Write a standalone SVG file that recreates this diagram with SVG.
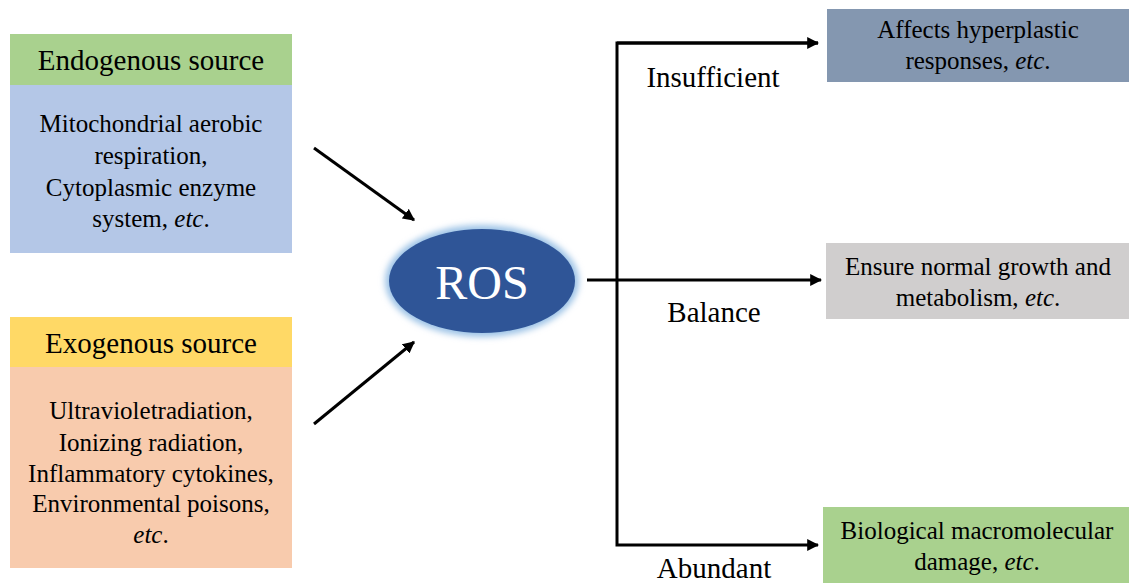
<svg xmlns="http://www.w3.org/2000/svg" width="1129" height="585" viewBox="0 0 1129 585">
  <style>
    text { font-family: 'Liberation Serif', 'Times New Roman', serif; fill: #000; text-anchor: middle; }
    .hdr { font-size: 29px; }
    .body { font-size: 25px; }
    .lbl { font-size: 29px; }
    .conn { stroke: #000; stroke-width: 3; fill: none; }
  </style>
  <defs>
    <marker id="ah" viewBox="0 0 10 10" refX="9" refY="5" markerWidth="4" markerHeight="4" orient="auto" markerUnits="strokeWidth">
      <path d="M0,0 L10,5 L0,10 z" fill="#000"/>
    </marker>
    <filter id="glow" x="-30%" y="-30%" width="160%" height="160%">
      <feGaussianBlur stdDeviation="3"/>
    </filter>
  </defs>
  <rect width="1129" height="585" fill="#fff"/>

  <g id="endogenous">
    <rect x="10" y="34" width="282" height="51" fill="#A9D18E"/>
    <rect x="10" y="85" width="282" height="168" fill="#B4C7E7"/>
    <text class="hdr" x="151" y="70">Endogenous source</text>
    <text class="body" x="151" y="132">Mitochondrial aerobic</text>
    <text class="body" x="151" y="164">respiration,</text>
    <text class="body" x="151" y="196">Cytoplasmic enzyme</text>
    <text class="body" x="151" y="227">system, <tspan font-style="italic">etc</tspan>.</text>
  </g>

  <g id="exogenous">
    <rect x="10" y="317" width="282" height="50" fill="#FFD966"/>
    <rect x="10" y="367" width="282" height="201" fill="#F8CBAD"/>
    <text class="hdr" x="151" y="353">Exogenous source</text>
    <text class="body" x="151" y="419">Ultravioletradiation,</text>
    <text class="body" x="151" y="451">Ionizing radiation,</text>
    <text class="body" x="151" y="482">Inflammatory cytokines,</text>
    <text class="body" x="151" y="512">Environmental poisons,</text>
    <text class="body" x="151" y="543"><tspan font-style="italic">etc</tspan>.</text>
  </g>

  <g id="ros">
    <ellipse cx="482" cy="281" rx="97" ry="56" fill="#9DC3E6" filter="url(#glow)"/>
    <ellipse cx="482" cy="281" rx="93" ry="52" fill="#2F5597"/>
    <text x="482" y="299" font-size="48" style="fill:#fff">ROS</text>
  </g>

  <g id="insufficient">
    <rect x="827" y="9" width="302" height="73" fill="#8497B0"/>
    <text class="body" x="978" y="38">Affects hyperplastic</text>
    <text class="body" x="978" y="69">responses, <tspan font-style="italic">etc</tspan>.</text>
  </g>

  <g id="balance">
    <rect x="826" y="243" width="303" height="76" fill="#D0CECE"/>
    <text class="body" x="978" y="275">Ensure normal growth and</text>
    <text class="body" x="978" y="306">metabolism, <tspan font-style="italic">etc</tspan>.</text>
  </g>

  <g id="abundant">
    <rect x="823" y="507" width="306" height="76" fill="#A9D18E"/>
    <text class="body" x="977" y="539">Biological macromolecular</text>
    <text class="body" x="977" y="570">damage, <tspan font-style="italic">etc</tspan>.</text>
  </g>

  <g id="labels">
    <text class="lbl" x="713" y="87">Insufficient</text>
    <text class="lbl" x="714" y="322">Balance</text>
    <text class="lbl" x="714" y="578">Abundant</text>
  </g>

  <g id="connectors">
    <line class="conn" x1="314" y1="148" x2="414" y2="220" marker-end="url(#ah)"/>
    <line class="conn" x1="314" y1="424" x2="414" y2="342" marker-end="url(#ah)"/>
    <line class="conn" x1="587" y1="280" x2="617" y2="280"/>
    <polyline class="conn" points="818,43 617,43 617,545 818,545" marker-end="url(#ah)"/>
    <line class="conn" x1="617" y1="280" x2="821" y2="280" marker-end="url(#ah)"/>
    <line class="conn" x1="617" y1="43" x2="818" y2="43" marker-end="url(#ah)"/>
  </g>
</svg>
